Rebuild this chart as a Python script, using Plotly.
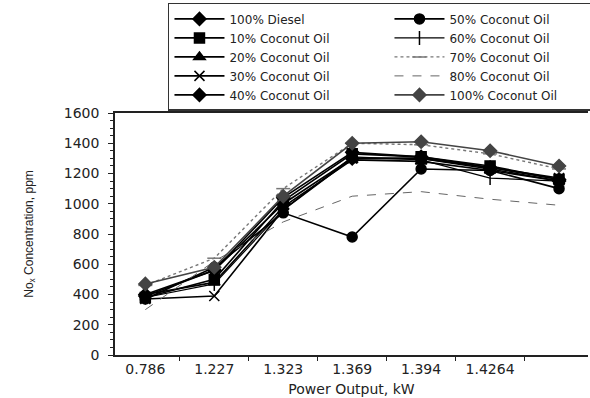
import plotly.graph_objects as go

categories = ["0.786", "1.227", "1.323", "1.369", "1.394", "1.4264", " "]

diesel_100 = [400, 560, 1000, 1300, 1300, 1230, 1150]
coconut_10 = [380, 500, 1020, 1330, 1310, 1250, 1160]
coconut_20 = [400, 480, 980, 1290, 1280, 1220, 1150]
coconut_30 = [370, 390, 960, 1300, 1300, 1240, 1170]
coconut_40 = [390, 560, 1040, 1340, 1310, 1240, 1160]
coconut_50 = [370, 580, 940, 780, 1230, 1220, 1100]
coconut_60 = [380, 470, 960, 1310, 1290, 1170, 1150]
coconut_70 = [460, 640, 1100, 1400, 1390, 1330, 1230]
coconut_80 = [300, 620, 880, 1050, 1080, 1030, 990]
coconut_100 = [470, 580, 1050, 1400, 1410, 1350, 1250]

series = [
    ("100% Diesel", diesel_100, "diamond", "black", "solid", 1.6),
    ("50% Coconut Oil", coconut_50, "circle", "black", "solid", 1.6),
    ("10% Coconut Oil", coconut_10, "square", "black", "solid", 1.6),
    ("60% Coconut Oil", coconut_60, "line-ns", "black", "solid", 1.2),
    ("20% Coconut Oil", coconut_20, "triangle-up", "black", "solid", 1.6),
    ("70% Coconut Oil", coconut_70, "line-ew", "#777777", "dot", 1.4),
    ("30% Coconut Oil", coconut_30, "x-thin", "black", "solid", 1.6),
    ("80% Coconut Oil", coconut_80, None, "#666666", "dash", 1.0),
    ("40% Coconut Oil", coconut_40, "diamond", "black", "solid", 1.6),
    ("100% Coconut Oil", coconut_100, "diamond", "#444444", "solid", 1.6),
]

FONT = "DejaVu Sans, Liberation Sans, Arial, sans-serif"

fig = go.Figure()
for name, vals, sym, col, dash, w in series:
    if sym is None:
        mode = "lines"
        marker = None
    else:
        mode = "lines+markers"
        marker = dict(symbol=sym, size=10, color=col,
                      line=dict(color=col, width=1.5))
    fig.add_trace(go.Scatter(
        x=categories, y=vals, name=name, mode=mode,
        line=dict(color=col, width=w, dash=dash),
        marker=marker,
    ))

fig.update_layout(
    width=590, height=398,
    margin=dict(l=115, r=2, t=113, b=43, autoexpand=False),
    paper_bgcolor="white", plot_bgcolor="white",
    font=dict(family=FONT, size=12, color="#222222"),
    showlegend=True,
    legend=dict(
        orientation="h", x=0.112, y=1.455, xanchor="left", yanchor="top",
        entrywidth=155, entrywidthmode="pixels",
        bordercolor="#333333", borderwidth=1.5,
        font=dict(family=FONT, size=12, color="#222222"),
        tracegroupgap=0, itemwidth=50,
    ),
    xaxis=dict(
        type="category", range=[-0.44, 6.42],
        showline=True, linecolor="#222222", linewidth=1.5, mirror=True,
        ticks="outside", ticklen=4, tickcolor="#222222", tickson="boundaries",
        showgrid=False, zeroline=False,
        title=dict(text="Power Output, kW", font=dict(family=FONT, size=14), standoff=9),
        tickfont=dict(family=FONT, size=14),
    ),
    yaxis=dict(
        range=[0, 1600], dtick=200,
        showline=True, linecolor="#222222", linewidth=1.5,
        ticks="outside", ticklen=5, tickcolor="#222222",
        minor=dict(ticks="outside", ticklen=3, dtick=50, tickcolor="#222222"),
        showgrid=False, zeroline=False, ticklabelstandoff=6,
        title=dict(text="No<sub>x</sub> Concentration, ppm",
                   font=dict(family="Liberation Sans, Arial, sans-serif", size=12), standoff=28),
        tickfont=dict(family=FONT, size=14),
    ),
)

fig.write_html("out.html")
